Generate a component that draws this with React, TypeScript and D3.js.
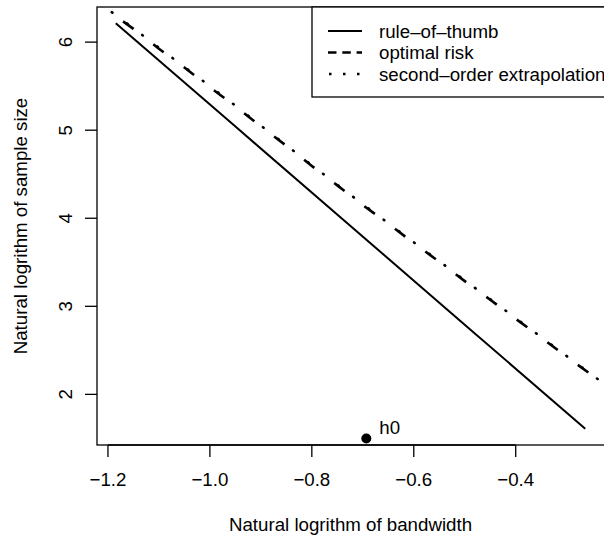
import React from "react";
import * as d3 from "d3";

// ---- data ----
const ruleLogH = [-1.18465, -0.95438, -0.72412, -0.49385, -0.26362];
const ruleLogN = [6.2146, 5.0634, 3.9120, 2.7607, 1.6094];

const optLogH = [-1.23, -1.2, -1.15, -1.1, -1.05, -1.0, -0.95, -0.9, -0.85, -0.8, -0.75, -0.7, -0.65, -0.6, -0.55, -0.5, -0.45, -0.4, -0.35, -0.3, -0.25, -0.2];
const optLogN = [6.495, 6.36, 6.15, 5.925, 5.712, 5.488, 5.272, 5.043, 4.823, 4.594, 4.373, 4.15, 3.938, 3.718, 3.506, 3.286, 3.075, 2.857, 2.646, 2.427, 2.216, 1.997];
const secLogN = [6.505, 6.372, 6.158, 5.936, 5.718, 5.5, 5.279, 5.052, 4.829, 4.603, 4.379, 4.16, 3.944, 3.727, 3.512, 3.295, 3.081, 2.866, 2.651, 2.435, 2.221, 2.005];

const h0 = { logH: -0.6931, logN: 1.5, label: "h0" };

const xTicks = [-1.2, -1.0, -0.8, -0.6, -0.4];
const yTicks = [2, 3, 4, 5, 6];
const legendLabels = ["rule\u2013of\u2013thumb", "optimal risk", "second\u2013order extrapolation"];

const W = 604, H = 537;
const plot = { left: 97, right: 604, top: 7, bottom: 445 };
const FONT = "'Liberation Sans', Arial, Helvetica, sans-serif";
const FS = 18.7;

export default function App() {
  const [xmin, xmax] = d3.extent(ruleLogH) as [number, number];
  const [ymin, ymax] = d3.extent(ruleLogN) as [number, number];
  const xe = (xmax - xmin) * 0.04;
  const ye = (ymax - ymin) * 0.04;
  const x = d3.scaleLinear().domain([xmin - xe, xmax + xe]).range([plot.left, plot.right]);
  const y = d3.scaleLinear().domain([ymin - ye, ymax + ye]).range([plot.bottom, plot.top]);

  const line = d3.line<[number, number]>().x((d) => x(d[0])).y((d) => y(d[1]));
  const rulePts = ruleLogH.map((h, i) => [h, ruleLogN[i]] as [number, number]);
  const optPts = optLogH.map((h, i) => [h, optLogN[i]] as [number, number]);
  const secPts = optLogH.map((h, i) => [h, secLogN[i]] as [number, number]);

  const fmt = (v: number) => (v < 0 ? "\u2212" : "") + Math.abs(v).toFixed(1);

  const legX = 312, legTop = 7, legBottom = 97;
  const rows = [31, 52.5, 74];

  return (
    <svg width={W} height={H} style={{ position: "absolute", left: 0, top: 0, background: "#fff" }} fontFamily={FONT}>
      <rect x={0} y={0} width={W} height={H} fill="#fff" />
      <defs>
        <clipPath id="pc">
          <rect x={plot.left} y={plot.top} width={plot.right - plot.left} height={plot.bottom - plot.top} />
        </clipPath>
      </defs>
      <g clipPath="url(#pc)" fill="none" stroke="#000">
        <path d={line(rulePts) || ""} strokeWidth={2} />
        <path d={line(optPts) || ""} strokeWidth={2.6} strokeDasharray="13,25" />
        <path d={line(secPts) || ""} strokeWidth={2.6} strokeDasharray="0.8,18.2" strokeDashoffset={14} strokeLinecap="round" />
      </g>
      {/* box */}
      <rect x={plot.left} y={plot.top} width={plot.right + 2 - plot.left} height={plot.bottom - plot.top} fill="none" stroke="#000" strokeWidth={1.3} />
      {/* x axis */}
      <g>
        <line x1={x(xTicks[0])} x2={x(xTicks[xTicks.length - 1])} y1={plot.bottom} y2={plot.bottom} stroke="#000" strokeWidth={1.3} />
        {xTicks.map((t) => (
          <g key={t}>
            <line x1={x(t)} x2={x(t)} y1={plot.bottom} y2={plot.bottom + 12} stroke="#000" strokeWidth={1.3} />
            <text x={x(t)} y={486} textAnchor="middle" fontSize={FS}>{fmt(t)}</text>
          </g>
        ))}
      </g>
      {/* y axis */}
      <g>
        {yTicks.map((t) => (
          <g key={t}>
            <line x1={plot.left - 12} x2={plot.left} y1={y(t)} y2={y(t)} stroke="#000" strokeWidth={1.3} />
            <text transform={`translate(71.7,${y(t)}) rotate(-90)`} textAnchor="middle" fontSize={FS}>{t}</text>
          </g>
        ))}
      </g>
      <text x={350.5} y={530.5} textAnchor="middle" fontSize={FS}>Natural logrithm of bandwidth</text>
      <text transform={`translate(26.7,${(plot.top + plot.bottom) / 2}) rotate(-90)`} textAnchor="middle" fontSize={FS}>Natural logrithm of sample size</text>
      {/* h0 */}
      <circle cx={x(h0.logH)} cy={y(h0.logN)} r={5} fill="#000" />
      <text x={x(h0.logH) + 13} y={y(h0.logN) - 4} fontSize={FS}>{h0.label}</text>
      {/* legend */}
      <rect x={legX} y={legTop} width={320} height={legBottom - legTop} fill="#fff" stroke="#000" strokeWidth={1.3} />
      <line x1={328} x2={362} y1={rows[0]} y2={rows[0]} stroke="#000" strokeWidth={2} />
      <line x1={328} x2={362} y1={rows[1]} y2={rows[1]} stroke="#000" strokeWidth={2.4} strokeDasharray="8.5,5.8" />
      <line x1={329} x2={362} y1={rows[2]} y2={rows[2]} stroke="#000" strokeWidth={2.4} strokeDasharray="2.5,11.5" />
      {legendLabels.map((l, i) => (
        <text key={l} x={379} y={rows[i] + 6.5} fontSize={FS}>{l}</text>
      ))}
    </svg>
  );
}
